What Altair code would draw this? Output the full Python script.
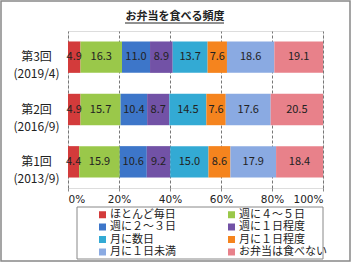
import altair as alt
import pandas as pd

rounds = ["第3回\n(2019/4)", "第2回\n(2016/9)", "第1回\n(2013/9)"]
categories = ["ほとんど毎日", "週に４～５日", "週に２～３日", "週に１日程度",
              "月に数日", "月に１日程度", "月に１日未満", "お弁当は食べない"]
colors = ["#d33b3b", "#9ac84a", "#3d76c9", "#7252a6",
          "#33aad4", "#f5841e", "#8aaae2", "#e8818a"]
vals_r3 = [4.9, 16.3, 11.0, 8.9, 13.7, 7.6, 18.6, 19.1]
vals_r2 = [4.9, 15.7, 10.4, 8.7, 14.5, 7.6, 17.6, 20.5]
vals_r1 = [4.4, 15.9, 10.6, 9.2, 15.0, 8.6, 17.9, 18.4]
x_ticks = [0, 0.2, 0.4, 0.6, 0.8, 1.0]
title_text = "お弁当を食べる頻度"

rows = []
for r, vals in zip(rounds, [vals_r3, vals_r2, vals_r1]):
    for i, (c, v) in enumerate(zip(categories, vals)):
        rows.append({"round": r, "cat": c, "value": v, "order": i})
df = pd.DataFrame(rows)

FONT = "Noto Sans CJK JP"
LATIN = "DejaVu Sans"
W, H = 255, 157

base = alt.Chart(df).transform_stack(
    stack="value", groupby=["round"], sort=[alt.SortField("order", "ascending")],
    as_=["v0", "v1"], offset="normalize"
).transform_calculate(mid="(datum.v0 + datum.v1) / 2")

yenc = alt.Y("round:N", sort=rounds, title=None,
             scale=alt.Scale(paddingInner=0.4, paddingOuter=0.2),
             axis=alt.Axis(labelExpr="split(datum.label, '\\n')", labelAlign="center",
                           labelPadding=32, labelFontSize=12, labelLineHeight=17,
                           labelColor="#222", labelFont=FONT, ticks=False, domain=False,
                           labelBaseline="middle"))

bars = base.mark_bar().encode(
    x=alt.X("v0:Q", scale=alt.Scale(domain=[0, 1], nice=False), title=None,
            axis=alt.Axis(values=x_ticks, format="%", labelFontSize=10.5, labelColor="#222",
                          labelFont=LATIN, grid=True, gridDash=[3, 2], gridColor="#777",
                          domain=False, tickSize=3, tickColor="#888", labelPadding=3)),
    x2="v1:Q",
    y=yenc,
    color=alt.Color("cat:N", sort=categories,
                    scale=alt.Scale(domain=categories, range=colors),
                    legend=alt.Legend(title=None, orient="none", legendX=29, legendY=178,
                                      columns=2, direction="horizontal",
                                      columnPadding=50, rowPadding=0.5,
                                      symbolType="square", symbolSize=49,
                                      symbolStrokeWidth=0, labelFontSize=11,
                                      labelFont=FONT, labelColor="#222",
                                      labelOffset=2, padding=0)),
)

labels = base.mark_text(fontSize=11, font=FONT, color="#222").encode(
    x="mid:Q",
    y=alt.Y("round:N", sort=rounds),
    text=alt.Text("value:Q", format=".1f"),
)

one = pd.DataFrame({"t": [title_text]})
# decorations: outer frame, legend box, title and its underline
frame = alt.Chart(one).mark_rect(
    fillOpacity=0, stroke="#888", strokeWidth=1.5
).encode(x=alt.value(-67), x2=alt.value(282), y=alt.value(-30), y2=alt.value(230))
legbox = alt.Chart(one).mark_rect(
    fillOpacity=0, stroke="#888", strokeWidth=1
).encode(x=alt.value(9), x2=alt.value(255), y=alt.value(176), y2=alt.value(228))
title = alt.Chart(one).mark_text(
    fontSize=11, font=FONT, fontWeight="bold", color="#222", baseline="middle"
).encode(x=alt.value(107), y=alt.value(-14), text="t:N")
uline = alt.Chart(one).mark_rule(color="#222", strokeWidth=1).encode(
    x=alt.value(57), x2=alt.value(156), y=alt.value(-8))

chart = alt.layer(bars, labels, frame, legbox, title, uline).properties(
    width=W, height=H,
    padding={"left": 68, "top": 31, "right": 29, "bottom": 77},
    autosize=alt.AutoSizeParams(type="none"),
).configure_view(stroke="#999", strokeWidth=1).configure(background="white")

chart.save("out.html", embed_options={"renderer": "svg", "actions": False})
